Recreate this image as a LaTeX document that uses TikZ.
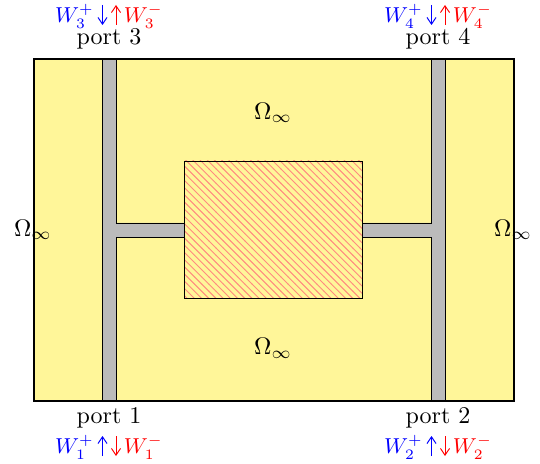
\documentclass[tikz,border=0pt]{standalone}
\usetikzlibrary{patterns,arrows.meta}
\definecolor{fieldyellow}{HTML}{FFF699}
\definecolor{guidegray}{HTML}{BBBBBB}
\definecolor{hatchpink}{HTML}{FF8A80}
\tikzset{
  field/.style={draw=black,line width=0.7pt,fill=fieldyellow,outer sep=0pt},
  guide/.style={draw=black,line width=0.35pt,fill=guidegray},
  scatterer/.style={draw=black,line width=0.4pt,outer sep=0pt,pattern=north west lines,pattern color=hatchpink},
  lab/.style={inner sep=0pt,anchor=center},
  wlab/.style={lab,font=\small},
  wave/.style={-{Straight Barb[length=2.8pt,width=3.8pt]},line width=0.4pt},
  wplus/.style={wave,blue},
  wminus/.style={wave,red},
}
\begin{document}
\begin{tikzpicture}[x=0.41667pt,y=-0.41667pt]
\useasboundingbox (0,0) rectangle (540,464);
\node[field,minimum width=200pt,minimum height=142.5pt,inner sep=0pt,anchor=north west] (domain) at (34,59) {};
% guides
\path[guide] (102,59) -- (116,59) -- (116,223) -- (184,223) -- (184,237) -- (116,237) -- (116,401) -- (102,401) -- cycle;
\path[guide] (445,59) -- (431,59) -- (431,223) -- (362,223) -- (362,237) -- (431,237) -- (431,401) -- (445,401) -- cycle;
\node[scatterer,minimum width=74.17pt,minimum height=57.08pt,inner sep=0pt,anchor=north west] (scat) at (184,161) {};
\draw[line width=0.7pt] (domain.north west) rectangle (domain.south east);
\node[lab] (omT) at (273,113) {$\Omega_\infty$};
\node[lab] (omB) at (273,348) {$\Omega_\infty$};
\node[lab] (omL) at (33,230) {$\Omega_\infty$};
\node[lab] (omR) at (513,230) {$\Omega_\infty$};
% ports
\node[lab] (p3) at (109,39) {port 3};
\node[lab] (p4) at (438,39) {port 4};
\node[lab] (p1) at (109,418) {port 1};
\node[lab] (p2) at (438,418) {port 2};
% wave labels
\node[wlab,blue] (w3p) at (74.5,16) {$W_3^+$};
\node[wlab,red] (w3m) at (143.5,16) {$W_3^-$};
\node[wlab,blue] (w4p) at (403.5,16) {$W_4^+$};
\node[wlab,red] (w4m) at (472.5,16) {$W_4^-$};
\node[wlab,blue] (w1p) at (74.5,447) {$W_1^+$};
\node[wlab,red] (w1m) at (143.5,447) {$W_1^-$};
\node[wlab,blue] (w2p) at (403.5,447) {$W_2^+$};
\node[wlab,red] (w2m) at (472.5,447) {$W_2^-$};
% arrows
\coordinate (a3a) at (102.5,5); \coordinate (a3b) at (102.5,25);
\coordinate (b3a) at (116,5); \coordinate (b3b) at (116,25);
\coordinate (a4a) at (431.5,5); \coordinate (a4b) at (431.5,25);
\coordinate (b4a) at (445,5); \coordinate (b4b) at (445,25);
\coordinate (a1a) at (102.5,436); \coordinate (a1b) at (102.5,456);
\coordinate (b1a) at (116,436); \coordinate (b1b) at (116,456);
\coordinate (a2a) at (431.5,436); \coordinate (a2b) at (431.5,456);
\coordinate (b2a) at (445,436); \coordinate (b2b) at (445,456);
\draw[wplus] (a3a) -- (a3b);
\draw[wminus] (b3b) -- (b3a);
\draw[wplus] (a4a) -- (a4b);
\draw[wminus] (b4b) -- (b4a);
\draw[wplus] (a1b) -- (a1a);
\draw[wminus] (b1a) -- (b1b);
\draw[wplus] (a2b) -- (a2a);
\draw[wminus] (b2a) -- (b2b);
\end{tikzpicture}
\end{document}
